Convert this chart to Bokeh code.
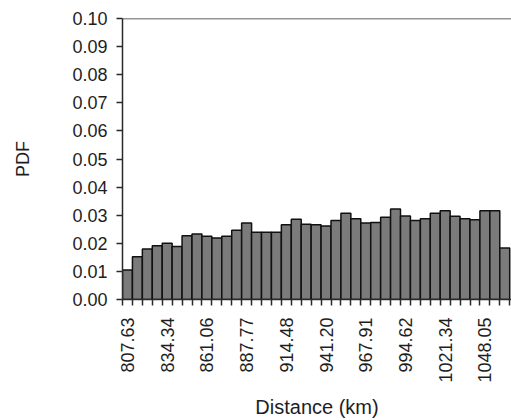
import math
from bokeh.plotting import figure
from bokeh.models import FixedTicker, Range1d, Span, NumeralTickFormatter
from bokeh.embed import file_html
from bokeh.resources import INLINE

# Histogram of distances (km): probability density per bin
tick_labels = [807.63, 834.34, 861.06, 887.77, 914.48, 941.20, 967.91, 994.62, 1021.34, 1048.05]
pdf = [0.0105, 0.0152, 0.0180, 0.0191, 0.0200, 0.0189, 0.0227, 0.0233, 0.0225, 0.0219,
       0.0225, 0.0246, 0.0272, 0.0239, 0.0239, 0.0239, 0.0266, 0.0286, 0.0268, 0.0266,
       0.0262, 0.0281, 0.0307, 0.0287, 0.0272, 0.0274, 0.0293, 0.0322, 0.0297, 0.0281,
       0.0287, 0.0307, 0.0316, 0.0296, 0.0287, 0.0284, 0.0316, 0.0316, 0.0183]
y_ticks = [0.00, 0.01, 0.02, 0.03, 0.04, 0.05, 0.06, 0.07, 0.08, 0.09, 0.10]

# every fourth bin centre carries a label
bin_w = (tick_labels[1] - tick_labels[0]) / 4
centers = [tick_labels[0] + i * bin_w for i in range(len(pdf))]
lefts = [c - bin_w / 2 for c in centers]
rights = [c + bin_w / 2 for c in centers]
edges = lefts + [rights[-1]]

FONT = "Liberation Sans"
TXT = "#1e1e1e"
AX = "#2a2a2a"

p = figure(width=511, height=420, output_backend="svg", toolbar_location=None,
           x_range=Range1d(lefts[0], rights[-1] + 1.2), y_range=Range1d(0, 0.10),
           min_border_left=122, min_border_right=0, min_border_top=18, min_border_bottom=120)
p.background_fill_color = "white"
p.border_fill_color = "white"
p.outline_line_color = None
p.xgrid.visible = False
p.ygrid.visible = False

p.quad(left=lefts, right=rights, top=pdf, bottom=0,
       fill_color="#7b7b7b", line_color="#111111", line_width=1.5)

# top edge of the plot area
p.add_layout(Span(location=0.10, dimension="width", line_color=AX, line_width=1.5))

xa = p.xaxis[0]
xa.ticker = FixedTicker(ticks=tick_labels, minor_ticks=edges)
xa.formatter = NumeralTickFormatter(format="0.00")
xa.major_label_orientation = math.pi / 2
xa.major_tick_out = 0
xa.major_tick_in = 0
xa.minor_tick_out = 6
xa.minor_tick_in = 0
xa.minor_tick_line_color = AX
xa.minor_tick_line_width = 1.5
xa.major_label_standoff = 12
xa.axis_label = "Distance (km)"
xa.axis_label_standoff = 10

ya = p.yaxis[0]
ya.ticker = FixedTicker(ticks=y_ticks)
ya.formatter = NumeralTickFormatter(format="0.00")
ya.major_tick_out = 6
ya.major_tick_in = 0
ya.minor_tick_out = 0
ya.minor_tick_in = 0
ya.major_tick_line_color = AX
ya.major_tick_line_width = 1.5
ya.major_label_standoff = 9
ya.axis_label = "PDF"
ya.axis_label_standoff = 36

for ax in (xa, ya):
    ax.axis_line_color = AX
    ax.axis_line_width = 1.5
    ax.major_label_text_font = FONT
    ax.major_label_text_font_size = "18px"
    ax.major_label_text_color = TXT
    ax.axis_label_text_font = FONT
    ax.axis_label_text_font_style = "normal"
    ax.axis_label_text_color = TXT
xa.axis_label_text_font_size = "20px"
ya.axis_label_text_font_size = "18px"

open("out.html", "w").write(file_html(p, INLINE))
